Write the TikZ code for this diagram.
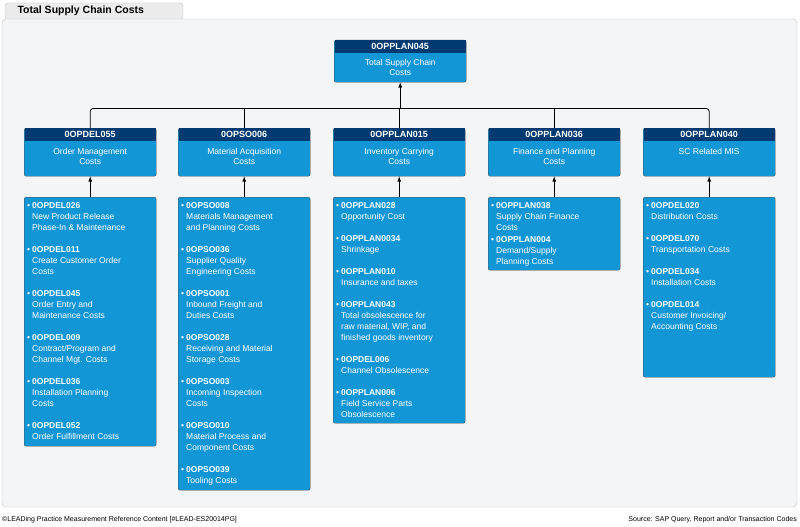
\documentclass[tikz,border=0pt]{standalone}
\usepackage{fontspec}
\setmainfont{Liberation Sans}
\usetikzlibrary{positioning}
\usetikzlibrary{calc}
\usetikzlibrary{arrows}
\definecolor{sapblue}{RGB}{18,150,214}
\definecolor{sapdark}{RGB}{0,58,112}
\definecolor{panelgray}{RGB}{244,245,246}
\tikzset{>=latex}
\tikzset{box/.style={draw=gray!60!black, fill=sapblue, rounded corners=2pt, minimum width=132pt, anchor=north west, inner sep=0pt}}
\tikzset{head/.style={fill=sapdark, text=white, font=\fontsize{9}{10}\selectfont\bfseries, minimum width=131pt, minimum height=13pt, anchor=north, inner sep=0pt}}
\tikzset{label/.style={text=white, font=\fontsize{8.5}{10}\selectfont, align=center, anchor=north}}
\tikzset{items/.style={text=white, font=\fontsize{8.5}{11}\selectfont, align=left, anchor=north west, inner sep=0pt}}
\tikzset{link/.style={thick, black}}
\newcommand{\entry}[2]{\begin{tabular}[t]{@{}l@{\hspace{2pt}}l@{}}\textbullet&\textbf{#1}\\&\begin{tabular}[t]{@{}l@{}}#2\end{tabular}\end{tabular}}

\begin{document}
\begin{tikzpicture}[x=1pt,y=-1pt]
    \useasboundingbox (0,0) rectangle (800,527);

    % Frame
    \draw [gray!50, fill=gray!15, rounded corners=3pt] (5,20) -- (5,3) -- (183,3) -- (183,20);
    \node [font=\fontsize{10.5}{12}\selectfont\bfseries, anchor=west] (title) at (14,11) {Total Supply Chain Costs};
    \draw [gray!50, fill=panelgray, rounded corners=4pt] (2,19) rectangle (797,507);

    % Top node
    \node [box, minimum height=42pt] (top) at (334,40) {};
    \node [head] (tophead) at (top.north) {0OPPLAN045};
    \node [label] at ($(tophead.south)+(0,2)$) {Total Supply Chain\\Costs};

    % Second level
    \foreach \name/\x/\code/\txt in {
        del/24/0OPDEL055/{Order Management\\Costs},
        pso/178/0OPSO006/{Material Acquisition\\Costs},
        inv/333/0OPPLAN015/{Inventory Carrying\\Costs},
        fin/488/0OPPLAN036/{Finance and Planning\\Costs},
        mis/643/0OPPLAN040/{SC Related MIS}}{
        \node [box, minimum height=48pt] (\name) at (\x,128) {};
        \node [head] (\name-head) at (\name.north) {\code};
        \node [label] at ($(\name-head.south)+(0,3)$) {\txt};
    }

    % Detail boxes
    \foreach \name/\x/\h in {del/24/249, pso/178/293, inv/333/226, fin/488/73, mis/643/180}{
        \node [box, minimum height=\h pt] (\name-list) at (\x,197) {};
        \draw [->, link] (\name-list.north) -- (\name.south);
    }
    \node [items] at ($(del-list.north west)+(3,4)$) {%
        \entry{0OPDEL026}{New Product Release\\Phase-In \& Maintenance}\\[10pt]
        \entry{0OPDEL011}{Create Customer Order\\Costs}\\[10pt]
        \entry{0OPDEL045}{Order Entry and\\Maintenance Costs}\\[10pt]
        \entry{0OPDEL009}{Contract/Program and\\Channel Mgt. Costs}\\[10pt]
        \entry{0OPDEL036}{Installation Planning\\Costs}\\[10pt]
        \entry{0OPDEL052}{Order Fulfillment Costs}};
    \node [items] at ($(pso-list.north west)+(3,4)$) {%
        \entry{0OPSO008}{Materials Management\\and Planning Costs}\\[10pt]
        \entry{0OPSO036}{Supplier Quality\\Engineering Costs}\\[10pt]
        \entry{0OPSO001}{Inbound Freight and\\Duties Costs}\\[10pt]
        \entry{0OPSO028}{Receiving and Material\\Storage Costs}\\[10pt]
        \entry{0OPSO003}{Incoming Inspection\\Costs}\\[10pt]
        \entry{0OPSO010}{Material Process and\\Component Costs}\\[10pt]
        \entry{0OPSO039}{Tooling Costs}};
    \node [items] at ($(inv-list.north west)+(3,4)$) {%
        \entry{0OPPLAN028}{Opportunity Cost}\\[10pt]
        \entry{0OPPLAN0034}{Shrinkage}\\[10pt]
        \entry{0OPPLAN010}{Insurance and taxes}\\[10pt]
        \entry{0OPPLAN043}{Total obsolescence for\\raw material, WIP, and\\finished goods inventory}\\[10pt]
        \entry{0OPDEL006}{Channel Obsolescence}\\[10pt]
        \entry{0OPPLAN006}{Field Service Parts\\Obsolescence}};
    \node [items] at ($(fin-list.north west)+(3,4)$) {%
        \entry{0OPPLAN038}{Supply Chain Finance\\Costs}\\
        \entry{0OPPLAN004}{Demand/Supply\\Planning Costs}};
    \node [items] at ($(mis-list.north west)+(3,4)$) {%
        \entry{0OPDEL020}{Distribution Costs}\\[10pt]
        \entry{0OPDEL070}{Transportation Costs}\\[10pt]
        \entry{0OPDEL034}{Installation Costs}\\[10pt]
        \entry{0OPDEL014}{Customer Invoicing/\\Accounting Costs}};

    % Connector bus
    \coordinate (bus) at ($(top.south)+(0,26)$);
    \coordinate (bus-west) at (del.north |- bus);
    \coordinate (bus-east) at (mis.north |- bus);
    \draw [link, rounded corners=3pt] (del.north) -- (bus-west) -- (bus-east) -- (mis.north);
    \foreach \name in {pso, inv, fin}{
        \draw [link] (bus -| \name.north) -- (\name.north);
    }
    \draw [->, link] (bus) -- (top.south);

    % Footer
    \node [font=\fontsize{7}{8}\selectfont, anchor=west, inner sep=0pt] (footer) at (2,520) {\textcopyright LEADing Practice Measurement Reference Content [\#LEAD-ES20014PG]};
    \node [font=\fontsize{7}{8}\selectfont, anchor=east, inner sep=0pt] (source) at (797,520) {Source: SAP Query, Report and/or Transaction Codes};
\end{tikzpicture}
\end{document}
